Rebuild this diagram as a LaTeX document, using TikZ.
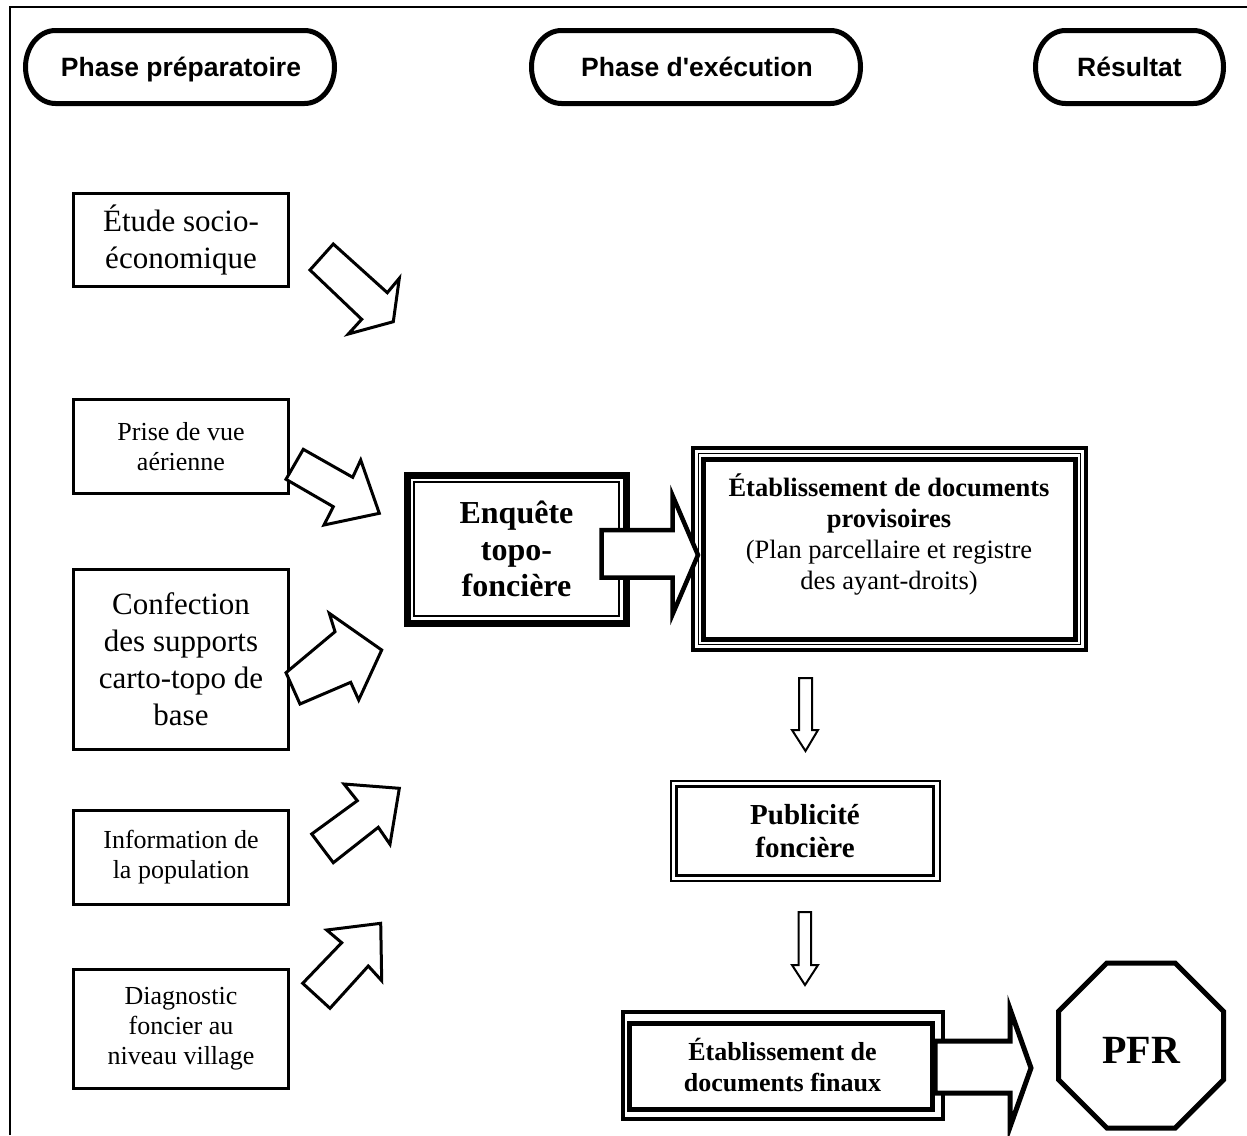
\documentclass[tikz,border=0pt]{standalone}
\usepackage{fontspec}
\setmainfont{Liberation Serif}
\newfontfamily\hdfont{Liberation Sans}
\newcommand{\termshape}[4]{%
 \pgfmathsetmacro{\tma}{#1+30}\pgfmathsetmacro{\tmb}{#3-30}%
 \pgfmathsetmacro{\tmm}{(#2+#4)/2}\pgfmathsetmacro{\tmr}{(#4-#2)/2*0.5523}%
 \pgfmathsetmacro{\tmk}{30*0.5523}%
 \draw[line width=5pt] (\tma,#2) -- (\tmb,#2)
   .. controls ({\tmb+\tmk},#2) and (#3,{\tmm-\tmr}) .. (#3,\tmm)
   .. controls (#3,{\tmm+\tmr}) and ({\tmb+\tmk},#4) .. (\tmb,#4)
   -- (\tma,#4)
   .. controls ({\tma-\tmk},#4) and (#1,{\tmm+\tmr}) .. (#1,\tmm)
   .. controls (#1,{\tmm-\tmr}) and ({\tma-\tmk},#2) .. (\tma,#2) -- cycle;}
\begin{document}
\begin{tikzpicture}[x=1pt,y=-1pt,
  every node/.style={outer sep=0pt},
  lbox/.style={draw, line width=3pt, minimum width=215pt, inner sep=0pt, align=center},
  bigtxt/.style={font=\fontsize{31}{37}\selectfont},
  smtxt/.style={font=\fontsize{26}{30}\selectfont},
  hdtxt/.style={font=\hdfont\bfseries\fontsize{26.5}{30}\selectfont, anchor=base},
  blockarrow/.style={draw, line width=3pt, fill=white, line join=miter},
  thinarrow/.style={draw, line width=2pt, fill=white, line join=miter},
  mainarrow/.style={draw, line width=4.5pt, fill=white, line join=miter}]
\useasboundingbox (0,0) rectangle (1247,1135);
\fill[white] (0,0) rectangle (1247,1135);
% frame
\draw[line width=2.5pt] (10,1135) -- (10,7) -- (1247,7);
% header
\termshape{25.5}{30.5}{334.5}{103.5}
\termshape{531.5}{30.5}{860.5}{103.5}
\termshape{1035.5}{30.5}{1223.5}{103.5}
\node[hdtxt] (h1) at (181,76) {Phase préparatoire};
\node[hdtxt] (h2) at (697,76) {Phase d'exécution};
\node[hdtxt] (h3) at (1129.5,76) {Résultat};
% left boxes
\node[lbox, bigtxt, minimum height=93pt] (b1) at (181,240) {Étude socio-\\économique};
\node[lbox, smtxt, minimum height=94pt] (b2) at (181,446.5) {Prise de vue\\aérienne};
\node[lbox, bigtxt, minimum height=180pt] (b3) at (181,659.5) {Confection\\des supports\\carto-topo de\\base};
\node[lbox, smtxt, minimum height=94pt] (b4) at (181,857.5) {Information de\\la population};
\node[lbox, smtxt, minimum height=119pt] (b5) at (181,1029) {Diagnostic\\foncier au\\niveau village};
% enquete
\node[draw, line width=7pt, minimum width=219pt, minimum height=148pt, inner sep=0pt, align=center,
      font=\bfseries\fontsize{32}{36.5}\selectfont] (enq) at (516.5,549) {Enquête\\topo-\\foncière};
\draw[line width=1.2pt] ([xshift=7pt,yshift=-7pt]enq.north west) rectangle ([xshift=-7pt,yshift=7pt]enq.south east);
% etablissement provisoire
\node[draw, line width=4pt, minimum width=393pt, minimum height=201.5pt, inner sep=0pt] (etab) at (889,548.75) {};
\draw[line width=1pt] ([xshift=5.5pt,yshift=-5.5pt]etab.north west) rectangle ([xshift=-5.5pt,yshift=5.5pt]etab.south east);
\draw[line width=5pt] ([xshift=10.5pt,yshift=-11pt]etab.north west) rectangle ([xshift=-10.5pt,yshift=10pt]etab.south east);
\node[align=center, font=\fontsize{26.5}{31}\selectfont] (etabtxt) at (889,534)
  {\textbf{Établissement de documents}\\\textbf{provisoires}\\(Plan parcellaire et registre\\des ayant-droits)};
% publicite
\node[draw, line width=2pt, minimum width=269pt, minimum height=100pt, inner sep=0pt, align=center,
      font=\bfseries\fontsize{29}{33}\selectfont] (pub) at (805,831) {Publicité\\foncière};
\draw[line width=2.5pt] ([xshift=6pt,yshift=-5.5pt]pub.north west) rectangle ([xshift=-6pt,yshift=5.5pt]pub.south east);
% final
\node[draw, line width=4pt, minimum width=320pt, minimum height=106.5pt, inner sep=0pt, align=center,
      font=\bfseries\fontsize{26}{31}\selectfont] (fin) at (782.5,1065.25) {Établissement de\\documents finaux};
\draw[line width=5pt] ([xshift=7pt,yshift=-11.5pt]fin.north west) rectangle ([xshift=-10pt,yshift=9pt]fin.south east);
% PFR octagon
\coordinate (oc) at (1141,1045.5);
\draw[line width=5pt, line join=miter] (1223.5,1011.3) -- (1175.2,963) -- (1106.8,963) -- (1058.5,1011.3)
  -- (1058.5,1079.7) -- (1106.8,1128) -- (1175.2,1128) -- (1223.5,1079.7) -- cycle;
\node[font=\bfseries\fontsize{40}{44}\selectfont] (pfr) at (1141,1050) {PFR};
% left block arrows
\draw[blockarrow] (333.3,244) -- (310,270) -- (361.7,319.3) -- (348.3,334) -- (393.3,321.7) -- (399.3,278.3) -- (387.3,292.7) -- cycle;
\draw[blockarrow] (303.3,449.3) -- (286,479.3) -- (333.3,506.7) -- (324,525) -- (379.3,513.3) -- (360.7,460) -- (352.7,477.3) -- cycle;
\draw[blockarrow] (286,672.7) -- (300,704) -- (350.7,682.3) -- (358.7,700) -- (381.7,650) -- (329.3,613.3) -- (335,631.7) -- cycle;
\draw[blockarrow] (311.7,834) -- (333.3,862.7) -- (378.3,827.3) -- (390,844.3) -- (399.3,788.3) -- (344,784) -- (357.3,800.7) -- cycle;
\draw[blockarrow] (302.7,983.3) -- (330,1008.3) -- (368.3,966) -- (381.7,980.7) -- (380.7,923.3) -- (326.7,930) -- (341.7,942.7) -- cycle;
% main arrows
\draw[mainarrow] (601.5,530) -- (672.5,530) -- (672.5,495.5) -- (698,555) -- (672.5,614.5) -- (672.5,577.5) -- (601.5,577.5) -- cycle;
\draw[mainarrow, line width=5pt] (935,1041) -- (1010,1041) -- (1010,1009) -- (1031,1068) -- (1010,1127) -- (1010,1093) -- (935,1093) -- cycle;
% down arrows
\draw[thinarrow] (799,678) -- (812,678) -- (812,730) -- (818,730) -- (805.5,751) -- (792,730) -- (799,730) -- cycle;
\draw[thinarrow] (798.5,912) -- (811,912) -- (811,965) -- (818,965) -- (805,985) -- (792,965) -- (798.5,965) -- cycle;
\end{tikzpicture}
\end{document}
